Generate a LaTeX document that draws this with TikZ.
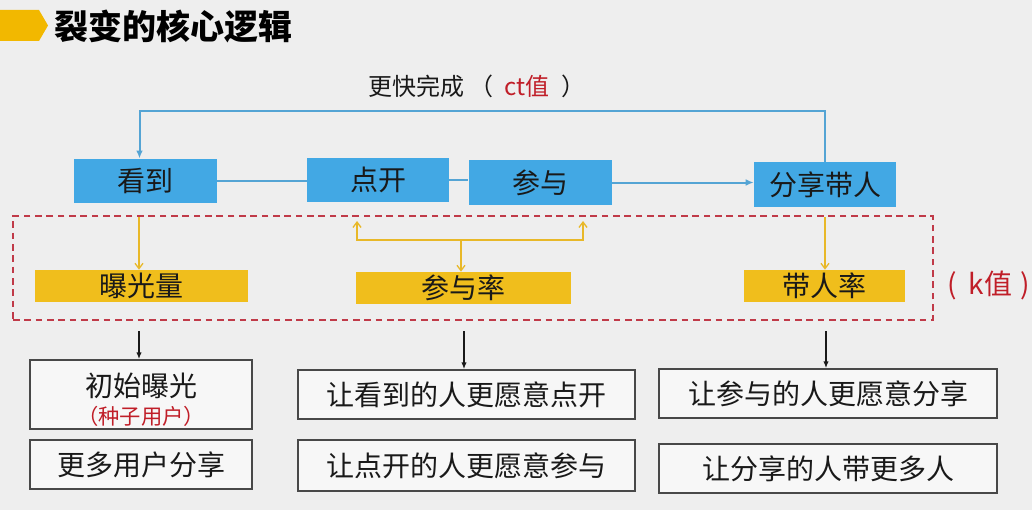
\documentclass[tikz,border=0pt]{standalone}
\usepackage{fontspec}
\setmainfont{Noto Sans CJK SC}
\usetikzlibrary{arrows.meta,shadows}
\definecolor{bg}{RGB}{238,238,238}
\definecolor{skyb}{RGB}{66,168,228}
\definecolor{lineb}{RGB}{84,164,212}
\definecolor{gold}{RGB}{240,190,28}
\definecolor{goldline}{RGB}{232,184,40}
\definecolor{dred}{RGB}{192,58,72}
\definecolor{txtred}{RGB}{192,30,40}
\definecolor{tagyellow}{RGB}{242,184,0}
\definecolor{boxline}{RGB}{72,72,72}
\definecolor{ink}{RGB}{25,25,25}
\tikzset{
  bigtext/.style={font=\fontsize{21}{25}\selectfont, text=ink},
  bluebox/.style={bigtext, fill=skyb, inner sep=0pt},
  goldbox/.style={bigtext, fill=gold, inner sep=0pt},
  whitebox/.style={bigtext, draw=boxline, line width=1.4pt, fill=white!55!bg, inner sep=0pt, align=center,
    drop shadow={shadow xshift=0.8pt, shadow yshift=-0.8pt, opacity=0.35, fill=black}},
  blueline/.style={draw=lineb, line width=1.5pt},
  bluearrow/.style={blueline, -{Latex[length=6pt,width=5pt]}},
  goldarrow/.style={draw=goldline, line width=1pt, -{Straight Barb[length=4pt,width=6pt]}},
  blackarrow/.style={draw=ink, line width=0.9pt, -{Latex[length=5pt,width=4pt]}},
  kframe/.style={draw=dred, line width=1.5pt, dash pattern=on 5pt off 3.5pt, inner sep=0pt}
}
\begin{document}
\begin{tikzpicture}[x=0.75pt,y=-0.75pt]
\useasboundingbox (0,0) rectangle (1032,510);
\fill[bg] (0,0) rectangle (1032,510);
% title
\fill[tagyellow] (0,10) -- (39,10) -- (48,25.5) -- (39,41) -- (0,41) -- cycle;
\node[anchor=west, inner sep=0pt, font=\fontsize{25.5}{28}\selectfont\bfseries, text=black] (title) at (54,27) {裂变的核心逻辑};
% ct label
\node[anchor=west, inner sep=0pt, font=\fontsize{18}{20}\selectfont, text=ink] (ct) at (368,86) {更快完成\hspace{4pt}（\hspace{8pt}{\color{txtred}ct值}\hspace{9pt}）};
% blue steps
\node[bluebox, minimum width=143*0.75pt, minimum height=44*0.75pt] (see) at (145,181) {看到};
\node[bluebox, minimum width=142*0.75pt, minimum height=44*0.75pt] (open) at (378,180) {点开};
\node[bluebox, minimum width=143*0.75pt, minimum height=45*0.75pt] (join) at (540,182.5) {参与};
\node[bluebox, minimum width=142*0.75pt, minimum height=45*0.75pt] (share) at (825,184.5) {分享带人};
\draw[blueline] (see.east) -- (see.east -| open.west);
\draw[blueline] (open.east) -- (open.east -| join.west);
\draw[bluearrow] (join.east) -- (join.east -| share.west);
\coordinate (fbtop) at (0,111);
\coordinate (fbL) at (139.5,158.5);
\draw[bluearrow] (share.north) -- (share.north |- fbtop) -| (fbL);
% k frame
\node[kframe, minimum width=920*0.75pt, minimum height=104*0.75pt] (kbox) at (473,268) {};
\node[anchor=west, inner sep=0pt, font=\fontsize{21}{24}\selectfont, text=txtred] (kval) at (947,285) {(\hspace{9pt}k值\hspace{6pt})};
% gold rates
\node[goldbox, minimum width=213*0.75pt, minimum height=32*0.75pt] (expo) at (141.5,286) {曝光量};
\node[goldbox, minimum width=215*0.75pt, minimum height=32*0.75pt] (rate) at (463.5,288) {参与率};
\node[goldbox, minimum width=161*0.75pt, minimum height=32*0.75pt] (bring) at (824.5,286) {带人率};
\coordinate (y1) at (139,217);
\draw[goldarrow] (y1) -- (y1 |- expo.north);
\coordinate (fork) at (461,240);
\coordinate (fl) at (357,221);
\coordinate (fr) at (583,221);
\draw[goldarrow] (fork) -- (fork |- rate.north);
\draw[goldarrow] (fork) -| (fl);
\draw[goldarrow] (fork) -| (fr);
\coordinate (y3) at (825,217);
\draw[goldarrow] (y3) -- (y3 |- bring.north);
% bottom boxes
\node[whitebox, minimum width=222*0.75pt, minimum height=69*0.75pt] (init) at (141,394.5) {};
\node[bigtext, align=center, inner sep=0pt] (initt) at (141,400) {初始曝光\\[-4pt]{\fontsize{16}{18}\selectfont\color{txtred}（种子用户）}};
\node[whitebox, minimum width=222*0.75pt, minimum height=49*0.75pt] (more) at (141,464.5) {更多用户分享};
\node[whitebox, minimum width=337*0.75pt, minimum height=49*0.75pt] (seeopen) at (466.5,394.5) {让看到的人更愿意点开};
\node[whitebox, minimum width=337*0.75pt, minimum height=51*0.75pt] (openjoin) at (466.5,465.5) {让点开的人更愿意参与};
\node[whitebox, minimum width=338*0.75pt, minimum height=49*0.75pt] (joinshare) at (828,393.5) {让参与的人更愿意分享};
\node[whitebox, minimum width=338*0.75pt, minimum height=49*0.75pt] (sharemore) at (828,468.5) {让分享的人带更多人};
\coordinate (b1) at (139,331);
\coordinate (b2) at (464,331);
\coordinate (b3) at (826,331);
\draw[blackarrow] (b1) -- (b1 |- init.north);
\draw[blackarrow] (b2) -- (b2 |- seeopen.north);
\draw[blackarrow] (b3) -- (b3 |- joinshare.north);
\end{tikzpicture}
\end{document}
